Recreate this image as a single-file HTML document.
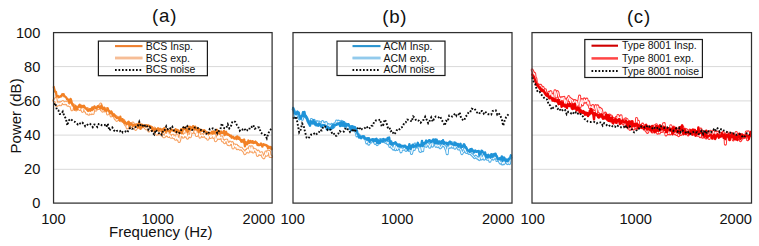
<!DOCTYPE html>
<html>
<head>
<meta charset="utf-8">
<title>Power spectra</title>
<style>
html,body{margin:0;padding:0;background:#fff;}
body{width:759px;height:246px;overflow:hidden;}
svg{display:block;}
text{font-family:"Liberation Sans",Arial,sans-serif;fill:#111;}
.tick{font-size:14.67px;}
.ttl{font-size:18.67px;letter-spacing:0.75px;}
.lg{font-size:10.5px;}
.grid{stroke:#d9d9d9;stroke-width:1;}
.frame{fill:none;stroke:#303030;stroke-width:1.25;}
.lbox{fill:none;stroke:#1a1a1a;stroke-width:1.2;}
.ln{fill:none;stroke-linejoin:round;stroke-linecap:round;}
.noise{fill:none;stroke:#0a0a0a;stroke-width:1.9;stroke-dasharray:1.7 1.8;}
</style>
</head>
<body>
<svg width="759" height="246" viewBox="0 0 759 246">
<rect x="0" y="0" width="759" height="246" fill="#fff"/>

<!-- gridlines -->
<g class="grid">
<path d="M53.5 66.6H272.1M53.5 100.9H272.1M53.5 135.1H272.1M53.5 169.3H272.1"/>
<path d="M293 66.6H512M293 100.9H512M293 135.1H512M293 169.3H512"/>
<path d="M532 66.6H751.5M532 100.9H751.5M532 135.1H751.5M532 169.3H751.5"/>
</g>

<!-- curves (a) -->
<polyline class="ln" stroke="#f7a05f" stroke-width="3.2" points="53.8,100.4 54.5,100.0 55.2,100.9 55.9,98.5 56.6,105.6 57.3,104.8 58.0,102.8 58.7,104.7 59.4,104.1 60.1,102.7 60.8,104.7 61.5,102.6 62.2,102.4 62.9,101.7 63.6,103.5 64.3,102.7 65.0,103.7 65.7,102.3 66.4,103.6 67.1,102.3 67.8,105.2 68.5,104.6 69.2,105.2 69.9,105.7 70.6,104.0 71.3,107.2 72.0,109.7 72.7,104.7 73.4,105.0 74.1,105.5 74.8,109.3 75.5,108.5 76.2,109.8 76.9,109.0 77.6,108.0 78.3,107.9 79.0,107.4 79.7,109.4 80.4,106.8 81.1,108.2 81.8,109.1 82.5,111.3 83.2,107.3 83.9,106.7 84.6,108.1 85.3,111.1 86.0,110.0 86.7,113.1 87.4,108.7 88.1,113.7 88.8,114.0 89.5,110.7 90.2,112.5 90.9,113.6 91.6,111.3 92.3,112.0 93.0,113.4 93.7,109.6 94.4,108.5 95.1,107.9 95.8,110.1 96.5,108.9 97.2,108.5 97.9,108.0 98.6,108.4 99.3,106.0 100.0,105.4 100.7,104.2 101.4,109.9 102.1,108.4 102.8,111.0 103.5,109.2 104.2,108.5 104.9,110.8 105.6,110.3 106.3,108.8 107.0,109.6 107.7,113.9 108.4,112.4 109.1,113.2 109.8,112.9 110.5,112.9 111.2,115.8 111.9,114.8 112.6,114.2 113.3,115.6 114.0,115.0 114.7,117.1 115.4,118.9 116.1,116.5 116.8,120.3 117.5,117.6 118.2,119.3 118.9,118.3 119.6,119.7 120.3,120.6 121.0,120.3 121.7,120.4 122.4,120.9 123.1,121.1 123.8,120.5 124.5,122.8 125.2,124.0 125.9,125.0 126.6,124.9 127.3,127.8 128.0,124.8 128.7,123.9 129.4,127.6 130.1,123.5 130.8,126.8 131.5,124.1 132.2,126.3 132.9,123.0 133.6,127.6 134.3,126.2 135.0,125.2 135.7,129.3 136.4,127.9 137.1,126.8 137.8,125.6 138.5,126.7 139.2,126.5 139.9,127.8 140.6,127.9 141.3,126.0 142.0,126.4 142.7,126.6 143.4,125.6 144.1,126.5 144.8,127.0 145.5,128.0 146.2,128.8 146.9,125.8 147.6,128.1 148.3,126.8 149.0,130.9 149.7,128.2 150.4,129.4 151.1,127.8 151.8,128.3 152.5,130.1 153.2,129.4 153.9,130.8 154.6,128.2 155.3,131.9 156.0,129.8 156.7,134.1 157.4,131.4 158.1,133.8 158.8,130.5 159.5,133.7 160.2,132.3 160.9,133.4 161.6,134.7 162.3,134.7 163.0,135.7 163.7,136.6 164.4,136.7 165.1,135.7 165.8,134.0 166.5,134.7 167.2,135.5 167.9,132.4 168.6,136.5 169.3,134.9 170.0,135.0 170.7,137.1 171.4,137.1 172.1,136.7 172.8,135.3 173.5,137.5 174.2,137.7 174.9,136.1 175.6,139.1 176.3,138.5 177.0,135.1 177.7,139.3 178.4,138.2 179.1,141.4 179.8,139.2 180.5,134.6 181.2,134.4 181.9,135.6 182.6,134.7 183.3,137.0 184.0,135.5 184.7,134.2 185.4,136.0 186.1,132.6 186.8,136.6 187.5,138.0 188.2,136.4 188.9,134.9 189.6,136.1 190.3,136.6 191.0,132.2 191.7,128.9 192.4,132.5 193.1,127.3 193.8,130.6 194.5,129.2 195.2,132.6 195.9,131.1 196.6,135.5 197.3,134.8 198.0,131.9 198.7,131.7 199.4,134.4 200.1,137.0 200.8,135.4 201.5,135.3 202.2,134.8 202.9,136.3 203.6,135.7 204.3,135.6 205.0,133.8 205.7,137.1 206.4,137.5 207.1,133.6 207.8,139.1 208.5,136.9 209.2,135.4 209.9,133.5 210.6,137.4 211.3,137.1 212.0,135.1 212.7,133.1 213.4,137.3 214.1,135.0 214.8,135.4 215.5,140.6 216.2,139.8 216.9,138.3 217.6,136.4 218.3,138.3 219.0,134.2 219.7,138.3 220.4,137.4 221.1,137.1 221.8,137.1 222.5,140.8 223.2,140.6 223.9,141.1 224.6,142.6 225.3,140.6 226.0,140.4 226.7,140.1 227.4,142.6 228.1,144.4 228.8,143.3 229.5,144.7 230.2,142.2 230.9,143.5 231.6,143.3 232.3,142.8 233.0,147.9 233.7,146.9 234.4,144.9 235.1,145.4 235.8,146.9 236.5,145.3 237.2,148.6 237.9,146.5 238.6,148.4 239.3,147.9 240.0,149.1 240.7,148.3 241.4,148.3 242.1,149.5 242.8,150.1 243.5,150.9 244.2,151.7 244.9,153.6 245.6,152.3 246.3,150.5 247.0,151.7 247.7,149.2 248.4,151.9 249.1,150.1 249.8,146.8 250.5,150.0 251.2,151.1 251.9,146.8 252.6,150.6 253.3,151.9 254.0,149.2 254.7,150.0 255.4,149.8 256.1,151.5 256.8,151.3 257.5,155.3 258.2,151.2 258.9,154.0 259.6,153.0 260.3,154.3 261.0,153.0 261.7,152.9 262.4,155.5 263.1,157.1 263.8,157.7 264.5,155.5 265.2,154.6 265.9,152.1 266.6,155.2 267.3,154.4 268.0,151.1 268.7,151.8 269.4,151.6 270.1,156.4 270.8,156.0 271.5,156.4"/>
<polyline class="ln" stroke="#fff" stroke-width="1.1" points="53.8,100.4 54.5,100.0 55.2,100.9 55.9,98.5 56.6,105.6 57.3,104.8 58.0,102.8 58.7,104.7 59.4,104.1 60.1,102.7 60.8,104.7 61.5,102.6 62.2,102.4 62.9,101.7 63.6,103.5 64.3,102.7 65.0,103.7 65.7,102.3 66.4,103.6 67.1,102.3 67.8,105.2 68.5,104.6 69.2,105.2 69.9,105.7 70.6,104.0 71.3,107.2 72.0,109.7 72.7,104.7 73.4,105.0 74.1,105.5 74.8,109.3 75.5,108.5 76.2,109.8 76.9,109.0 77.6,108.0 78.3,107.9 79.0,107.4 79.7,109.4 80.4,106.8 81.1,108.2 81.8,109.1 82.5,111.3 83.2,107.3 83.9,106.7 84.6,108.1 85.3,111.1 86.0,110.0 86.7,113.1 87.4,108.7 88.1,113.7 88.8,114.0 89.5,110.7 90.2,112.5 90.9,113.6 91.6,111.3 92.3,112.0 93.0,113.4 93.7,109.6 94.4,108.5 95.1,107.9 95.8,110.1 96.5,108.9 97.2,108.5 97.9,108.0 98.6,108.4 99.3,106.0 100.0,105.4 100.7,104.2 101.4,109.9 102.1,108.4 102.8,111.0 103.5,109.2 104.2,108.5 104.9,110.8 105.6,110.3 106.3,108.8 107.0,109.6 107.7,113.9 108.4,112.4 109.1,113.2 109.8,112.9 110.5,112.9 111.2,115.8 111.9,114.8 112.6,114.2 113.3,115.6 114.0,115.0 114.7,117.1 115.4,118.9 116.1,116.5 116.8,120.3 117.5,117.6 118.2,119.3 118.9,118.3 119.6,119.7 120.3,120.6 121.0,120.3 121.7,120.4 122.4,120.9 123.1,121.1 123.8,120.5 124.5,122.8 125.2,124.0 125.9,125.0 126.6,124.9 127.3,127.8 128.0,124.8 128.7,123.9 129.4,127.6 130.1,123.5 130.8,126.8 131.5,124.1 132.2,126.3 132.9,123.0 133.6,127.6 134.3,126.2 135.0,125.2 135.7,129.3 136.4,127.9 137.1,126.8 137.8,125.6 138.5,126.7 139.2,126.5 139.9,127.8 140.6,127.9 141.3,126.0 142.0,126.4 142.7,126.6 143.4,125.6 144.1,126.5 144.8,127.0 145.5,128.0 146.2,128.8 146.9,125.8 147.6,128.1 148.3,126.8 149.0,130.9 149.7,128.2 150.4,129.4 151.1,127.8 151.8,128.3 152.5,130.1 153.2,129.4 153.9,130.8 154.6,128.2 155.3,131.9 156.0,129.8 156.7,134.1 157.4,131.4 158.1,133.8 158.8,130.5 159.5,133.7 160.2,132.3 160.9,133.4 161.6,134.7 162.3,134.7 163.0,135.7 163.7,136.6 164.4,136.7 165.1,135.7 165.8,134.0 166.5,134.7 167.2,135.5 167.9,132.4 168.6,136.5 169.3,134.9 170.0,135.0 170.7,137.1 171.4,137.1 172.1,136.7 172.8,135.3 173.5,137.5 174.2,137.7 174.9,136.1 175.6,139.1 176.3,138.5 177.0,135.1 177.7,139.3 178.4,138.2 179.1,141.4 179.8,139.2 180.5,134.6 181.2,134.4 181.9,135.6 182.6,134.7 183.3,137.0 184.0,135.5 184.7,134.2 185.4,136.0 186.1,132.6 186.8,136.6 187.5,138.0 188.2,136.4 188.9,134.9 189.6,136.1 190.3,136.6 191.0,132.2 191.7,128.9 192.4,132.5 193.1,127.3 193.8,130.6 194.5,129.2 195.2,132.6 195.9,131.1 196.6,135.5 197.3,134.8 198.0,131.9 198.7,131.7 199.4,134.4 200.1,137.0 200.8,135.4 201.5,135.3 202.2,134.8 202.9,136.3 203.6,135.7 204.3,135.6 205.0,133.8 205.7,137.1 206.4,137.5 207.1,133.6 207.8,139.1 208.5,136.9 209.2,135.4 209.9,133.5 210.6,137.4 211.3,137.1 212.0,135.1 212.7,133.1 213.4,137.3 214.1,135.0 214.8,135.4 215.5,140.6 216.2,139.8 216.9,138.3 217.6,136.4 218.3,138.3 219.0,134.2 219.7,138.3 220.4,137.4 221.1,137.1 221.8,137.1 222.5,140.8 223.2,140.6 223.9,141.1 224.6,142.6 225.3,140.6 226.0,140.4 226.7,140.1 227.4,142.6 228.1,144.4 228.8,143.3 229.5,144.7 230.2,142.2 230.9,143.5 231.6,143.3 232.3,142.8 233.0,147.9 233.7,146.9 234.4,144.9 235.1,145.4 235.8,146.9 236.5,145.3 237.2,148.6 237.9,146.5 238.6,148.4 239.3,147.9 240.0,149.1 240.7,148.3 241.4,148.3 242.1,149.5 242.8,150.1 243.5,150.9 244.2,151.7 244.9,153.6 245.6,152.3 246.3,150.5 247.0,151.7 247.7,149.2 248.4,151.9 249.1,150.1 249.8,146.8 250.5,150.0 251.2,151.1 251.9,146.8 252.6,150.6 253.3,151.9 254.0,149.2 254.7,150.0 255.4,149.8 256.1,151.5 256.8,151.3 257.5,155.3 258.2,151.2 258.9,154.0 259.6,153.0 260.3,154.3 261.0,153.0 261.7,152.9 262.4,155.5 263.1,157.1 263.8,157.7 264.5,155.5 265.2,154.6 265.9,152.1 266.6,155.2 267.3,154.4 268.0,151.1 268.7,151.8 269.4,151.6 270.1,156.4 270.8,156.0 271.5,156.4"/>
<polyline class="ln" stroke="#f28125" stroke-width="2.3" points="53.8,87.0 54.5,90.2 55.2,91.9 55.9,91.8 56.6,96.2 57.3,96.4 58.0,96.0 58.7,97.3 59.4,96.9 60.1,96.6 60.8,95.9 61.5,96.2 62.2,94.3 62.9,94.7 63.6,94.1 64.3,96.3 65.0,96.4 65.7,97.0 66.4,97.8 67.1,99.1 67.8,99.8 68.5,99.7 69.2,102.0 69.9,102.4 70.6,98.8 71.3,100.7 72.0,103.8 72.7,104.6 73.4,106.1 74.1,106.6 74.8,109.3 75.5,105.9 76.2,106.7 76.9,109.3 77.6,107.2 78.3,106.9 79.0,105.6 79.7,104.6 80.4,107.2 81.1,107.5 81.8,105.8 82.5,106.4 83.2,106.9 83.9,105.8 84.6,107.3 85.3,108.1 86.0,108.7 86.7,108.6 87.4,110.2 88.1,110.8 88.8,110.3 89.5,109.2 90.2,110.7 90.9,108.9 91.6,110.1 92.3,107.4 93.0,109.4 93.7,107.9 94.4,106.4 95.1,107.6 95.8,108.2 96.5,108.6 97.2,106.8 97.9,106.1 98.6,107.1 99.3,106.5 100.0,107.6 100.7,108.3 101.4,105.4 102.1,107.7 102.8,109.2 103.5,107.9 104.2,107.7 104.9,110.1 105.6,109.7 106.3,110.7 107.0,109.5 107.7,108.3 108.4,110.6 109.1,110.9 109.8,113.1 110.5,113.1 111.2,111.4 111.9,112.4 112.6,115.3 113.3,115.5 114.0,114.4 114.7,115.7 115.4,116.7 116.1,117.2 116.8,118.1 117.5,117.8 118.2,117.9 118.9,118.2 119.6,120.2 120.3,116.7 121.0,119.7 121.7,120.4 122.4,119.1 123.1,121.7 123.8,120.9 124.5,123.1 125.2,122.2 125.9,123.4 126.6,124.3 127.3,123.5 128.0,122.2 128.7,121.7 129.4,125.8 130.1,123.8 130.8,123.4 131.5,124.6 132.2,124.4 132.9,125.9 133.6,125.2 134.3,125.4 135.0,124.7 135.7,126.2 136.4,124.4 137.1,126.4 137.8,127.5 138.5,123.8 139.2,122.7 139.9,126.4 140.6,128.7 141.3,124.7 142.0,124.6 142.7,127.0 143.4,125.6 144.1,125.7 144.8,125.7 145.5,126.5 146.2,125.2 146.9,126.2 147.6,125.9 148.3,125.4 149.0,126.3 149.7,126.0 150.4,127.6 151.1,126.7 151.8,127.1 152.5,130.4 153.2,128.9 153.9,129.1 154.6,129.9 155.3,128.9 156.0,129.2 156.7,130.0 157.4,129.9 158.1,128.2 158.8,130.7 159.5,129.2 160.2,128.8 160.9,129.2 161.6,129.9 162.3,132.5 163.0,129.2 163.7,130.8 164.4,128.0 165.1,130.6 165.8,131.7 166.5,130.2 167.2,129.5 167.9,130.4 168.6,130.8 169.3,130.6 170.0,132.1 170.7,130.2 171.4,129.4 172.1,130.1 172.8,130.4 173.5,130.8 174.2,130.8 174.9,131.2 175.6,129.2 176.3,132.3 177.0,130.8 177.7,129.9 178.4,131.9 179.1,132.5 179.8,131.4 180.5,130.8 181.2,129.2 181.9,133.4 182.6,130.6 183.3,127.9 184.0,128.0 184.7,129.1 185.4,127.5 186.1,129.9 186.8,129.5 187.5,131.9 188.2,131.5 188.9,126.6 189.6,129.4 190.3,126.9 191.0,129.6 191.7,128.0 192.4,128.2 193.1,126.1 193.8,129.3 194.5,129.6 195.2,126.6 195.9,129.0 196.6,128.4 197.3,129.7 198.0,128.4 198.7,132.3 199.4,129.1 200.1,130.1 200.8,131.2 201.5,130.0 202.2,130.7 202.9,130.5 203.6,131.2 204.3,130.1 205.0,131.2 205.7,131.8 206.4,131.9 207.1,132.7 207.8,132.5 208.5,134.0 209.2,133.0 209.9,133.4 210.6,132.9 211.3,132.9 212.0,131.7 212.7,133.7 213.4,131.4 214.1,131.7 214.8,132.8 215.5,132.6 216.2,131.5 216.9,129.8 217.6,133.0 218.3,133.0 219.0,131.2 219.7,133.8 220.4,132.0 221.1,131.5 221.8,133.0 222.5,132.6 223.2,133.1 223.9,130.9 224.6,135.2 225.3,132.5 226.0,131.6 226.7,134.4 227.4,133.6 228.1,134.9 228.8,134.6 229.5,135.4 230.2,136.2 230.9,135.5 231.6,137.7 232.3,136.8 233.0,136.6 233.7,137.9 234.4,138.6 235.1,138.0 235.8,137.3 236.5,139.1 237.2,136.3 237.9,137.1 238.6,138.8 239.3,137.6 240.0,139.7 240.7,140.1 241.4,141.7 242.1,140.0 242.8,140.8 243.5,142.4 244.2,139.5 244.9,146.4 245.6,142.1 246.3,142.3 247.0,144.4 247.7,143.1 248.4,140.5 249.1,142.9 249.8,142.7 250.5,141.0 251.2,141.4 251.9,142.6 252.6,141.1 253.3,143.0 254.0,142.9 254.7,142.1 255.4,141.5 256.1,143.1 256.8,142.6 257.5,145.0 258.2,144.2 258.9,145.2 259.6,144.6 260.3,144.8 261.0,143.5 261.7,145.3 262.4,146.6 263.1,144.3 263.8,144.2 264.5,145.0 265.2,144.8 265.9,144.8 266.6,146.0 267.3,145.7 268.0,148.1 268.7,146.6 269.4,147.2 270.1,148.2 270.8,146.9 271.5,149.2"/>
<polyline class="noise" points="53.8,104.7 55.3,103.0 56.8,109.5 58.3,110.2 59.8,114.0 61.3,113.9 62.8,111.6 64.3,116.2 65.8,118.3 67.3,125.4 68.8,120.6 70.3,118.9 71.8,120.0 73.3,121.3 74.8,121.8 76.3,123.0 77.8,124.4 79.3,122.9 80.8,123.9 82.3,122.7 83.8,123.8 85.3,126.4 86.8,125.5 88.3,123.7 89.8,123.8 91.3,124.8 92.8,127.1 94.3,124.5 95.8,124.9 97.3,127.0 98.8,123.9 100.3,124.0 101.8,125.2 103.3,125.3 104.8,124.9 106.3,127.0 107.8,123.7 109.3,130.4 110.8,128.8 112.3,127.4 113.8,130.1 115.3,131.7 116.8,130.8 118.3,130.5 119.8,131.3 121.3,130.2 122.8,132.6 124.3,132.1 125.8,131.4 127.3,132.4 128.8,129.6 130.3,127.6 131.8,128.7 133.3,128.6 134.8,128.0 136.3,126.2 137.8,126.0 139.3,121.8 140.8,125.8 142.3,126.5 143.8,124.2 145.3,126.0 146.8,125.3 148.3,129.6 149.8,127.2 151.3,129.7 152.8,132.9 154.3,134.5 155.8,129.8 157.3,131.8 158.8,133.2 160.3,132.5 161.8,134.6 163.3,129.8 164.8,129.9 166.3,126.3 167.8,129.1 169.3,127.5 170.8,128.6 172.3,126.8 173.8,130.4 175.3,130.4 176.8,132.4 178.3,133.5 179.8,132.7 181.3,129.9 182.8,128.1 184.3,126.1 185.8,128.5 187.3,126.2 188.8,128.6 190.3,129.9 191.8,130.1 193.3,129.6 194.8,127.6 196.3,127.1 197.8,128.0 199.3,129.0 200.8,129.9 202.3,130.7 203.8,131.5 205.3,133.5 206.8,133.7 208.3,134.3 209.8,128.9 211.3,129.1 212.8,128.3 214.3,129.7 215.8,129.8 217.3,133.4 218.8,131.1 220.3,129.6 221.8,123.3 223.3,127.5 224.8,128.3 226.3,128.1 227.8,124.3 229.3,128.4 230.8,126.7 232.3,122.0 233.8,121.0 235.3,122.0 236.8,124.9 238.3,127.3 239.8,130.7 241.3,128.9 242.8,129.7 244.3,128.5 245.8,131.1 247.3,130.2 248.8,130.5 250.3,126.7 251.8,126.9 253.3,125.1 254.8,128.7 256.3,128.1 257.8,127.3 259.3,127.6 260.8,132.5 262.3,133.7 263.8,134.7 265.3,135.1 266.8,138.3 268.3,133.4 269.8,130.4 271.3,128.8"/>
<!-- curves (b) -->
<polyline class="ln" stroke="#55b0e6" stroke-width="3" points="293.2,109.4 293.9,110.3 294.6,113.4 295.3,116.0 296.0,117.5 296.7,115.8 297.4,114.6 298.1,114.1 298.8,116.8 299.5,119.0 300.2,118.0 300.9,116.8 301.6,116.7 302.3,119.4 303.0,116.5 303.7,112.8 304.4,115.8 305.1,115.2 305.8,116.9 306.5,118.0 307.2,118.6 307.9,121.3 308.6,121.4 309.3,121.6 310.0,122.8 310.7,123.1 311.4,119.4 312.1,121.2 312.8,120.4 313.5,121.8 314.2,120.4 314.9,122.5 315.6,122.6 316.3,122.5 317.0,121.7 317.7,122.8 318.4,122.1 319.1,122.0 319.8,124.4 320.5,122.7 321.2,125.9 321.9,125.3 322.6,121.5 323.3,124.7 324.0,123.0 324.7,124.9 325.4,125.1 326.1,122.5 326.8,125.2 327.5,125.4 328.2,127.3 328.9,124.6 329.6,127.7 330.3,125.4 331.0,125.8 331.7,124.4 332.4,126.9 333.1,125.0 333.8,126.9 334.5,123.7 335.2,123.5 335.9,123.3 336.6,121.0 337.3,121.5 338.0,123.5 338.7,121.1 339.4,122.1 340.1,121.9 340.8,122.8 341.5,121.4 342.2,121.7 342.9,122.5 343.6,123.2 344.3,122.8 345.0,126.2 345.7,123.9 346.4,124.5 347.1,124.9 347.8,128.5 348.5,127.0 349.2,126.4 349.9,126.4 350.6,128.8 351.3,127.0 352.0,126.9 352.7,129.8 353.4,127.5 354.1,129.3 354.8,130.7 355.5,131.0 356.2,132.5 356.9,135.9 357.6,135.0 358.3,135.7 359.0,134.9 359.7,137.2 360.4,137.0 361.1,137.8 361.8,136.8 362.5,136.8 363.2,136.5 363.9,136.9 364.6,138.5 365.3,138.5 366.0,139.8 366.7,143.0 367.4,141.5 368.1,139.1 368.8,144.2 369.5,142.4 370.2,140.1 370.9,142.2 371.6,140.5 372.3,139.6 373.0,140.0 373.7,140.0 374.4,141.9 375.1,143.5 375.8,141.6 376.5,142.6 377.2,144.7 377.9,140.2 378.6,142.0 379.3,141.0 380.0,139.7 380.7,139.5 381.4,140.7 382.1,141.1 382.8,139.5 383.5,140.5 384.2,141.6 384.9,141.3 385.6,142.3 386.3,141.8 387.0,141.8 387.7,143.7 388.4,142.0 389.1,143.4 389.8,146.4 390.5,144.9 391.2,145.9 391.9,147.8 392.6,147.8 393.3,149.1 394.0,147.0 394.7,144.9 395.4,149.7 396.1,148.7 396.8,145.9 397.5,149.5 398.2,147.9 398.9,145.8 399.6,148.2 400.3,148.5 401.0,151.9 401.7,148.6 402.4,149.3 403.1,149.3 403.8,149.1 404.5,148.1 405.2,149.5 405.9,150.5 406.6,149.7 407.3,148.0 408.0,148.2 408.7,150.4 409.4,149.7 410.1,150.2 410.8,149.0 411.5,153.6 412.2,151.2 412.9,147.7 413.6,149.4 414.3,149.5 415.0,143.9 415.7,146.1 416.4,146.0 417.1,147.1 417.8,146.2 418.5,146.8 419.2,147.7 419.9,151.1 420.6,151.5 421.3,147.3 422.0,146.2 422.7,150.8 423.4,145.2 424.1,145.3 424.8,145.7 425.5,145.9 426.2,146.4 426.9,145.2 427.6,143.2 428.3,144.9 429.0,144.7 429.7,147.3 430.4,144.8 431.1,143.2 431.8,143.2 432.5,146.2 433.2,143.0 433.9,140.3 434.6,142.9 435.3,144.2 436.0,146.4 436.7,143.7 437.4,146.3 438.1,146.7 438.8,144.9 439.5,145.7 440.2,147.9 440.9,147.4 441.6,145.7 442.3,144.5 443.0,145.7 443.7,145.1 444.4,146.3 445.1,146.4 445.8,148.9 446.5,150.1 447.2,153.8 447.9,146.7 448.6,147.3 449.3,147.4 450.0,145.3 450.7,147.2 451.4,142.6 452.1,146.0 452.8,147.3 453.5,143.0 454.2,145.0 454.9,148.3 455.6,146.7 456.3,145.8 457.0,147.0 457.7,147.0 458.4,149.0 459.1,148.9 459.8,148.7 460.5,149.1 461.2,150.9 461.9,153.7 462.6,152.0 463.3,151.9 464.0,150.4 464.7,148.3 465.4,149.8 466.1,152.4 466.8,152.4 467.5,151.6 468.2,150.8 468.9,153.5 469.6,153.1 470.3,153.3 471.0,153.6 471.7,154.7 472.4,154.9 473.1,156.2 473.8,156.6 474.5,157.6 475.2,157.3 475.9,156.2 476.6,157.1 477.3,158.3 478.0,157.6 478.7,159.0 479.4,159.6 480.1,156.6 480.8,155.1 481.5,159.1 482.2,157.4 482.9,158.4 483.6,155.6 484.3,159.2 485.0,156.7 485.7,156.6 486.4,157.5 487.1,159.3 487.8,159.2 488.5,159.3 489.2,158.3 489.9,161.3 490.6,159.0 491.3,158.7 492.0,158.6 492.7,155.2 493.4,159.2 494.1,157.8 494.8,157.7 495.5,157.9 496.2,157.1 496.9,160.6 497.6,159.4 498.3,159.7 499.0,160.2 499.7,162.1 500.4,163.2 501.1,161.6 501.8,160.6 502.5,164.1 503.2,160.9 503.9,163.8 504.6,162.0 505.3,161.1 506.0,161.2 506.7,162.8 507.4,163.6 508.1,162.4 508.8,163.4 509.5,163.6 510.2,159.4 510.9,157.7"/>
<polyline class="ln" stroke="#fff" stroke-width="1" points="293.2,109.4 293.9,110.3 294.6,113.4 295.3,116.0 296.0,117.5 296.7,115.8 297.4,114.6 298.1,114.1 298.8,116.8 299.5,119.0 300.2,118.0 300.9,116.8 301.6,116.7 302.3,119.4 303.0,116.5 303.7,112.8 304.4,115.8 305.1,115.2 305.8,116.9 306.5,118.0 307.2,118.6 307.9,121.3 308.6,121.4 309.3,121.6 310.0,122.8 310.7,123.1 311.4,119.4 312.1,121.2 312.8,120.4 313.5,121.8 314.2,120.4 314.9,122.5 315.6,122.6 316.3,122.5 317.0,121.7 317.7,122.8 318.4,122.1 319.1,122.0 319.8,124.4 320.5,122.7 321.2,125.9 321.9,125.3 322.6,121.5 323.3,124.7 324.0,123.0 324.7,124.9 325.4,125.1 326.1,122.5 326.8,125.2 327.5,125.4 328.2,127.3 328.9,124.6 329.6,127.7 330.3,125.4 331.0,125.8 331.7,124.4 332.4,126.9 333.1,125.0 333.8,126.9 334.5,123.7 335.2,123.5 335.9,123.3 336.6,121.0 337.3,121.5 338.0,123.5 338.7,121.1 339.4,122.1 340.1,121.9 340.8,122.8 341.5,121.4 342.2,121.7 342.9,122.5 343.6,123.2 344.3,122.8 345.0,126.2 345.7,123.9 346.4,124.5 347.1,124.9 347.8,128.5 348.5,127.0 349.2,126.4 349.9,126.4 350.6,128.8 351.3,127.0 352.0,126.9 352.7,129.8 353.4,127.5 354.1,129.3 354.8,130.7 355.5,131.0 356.2,132.5 356.9,135.9 357.6,135.0 358.3,135.7 359.0,134.9 359.7,137.2 360.4,137.0 361.1,137.8 361.8,136.8 362.5,136.8 363.2,136.5 363.9,136.9 364.6,138.5 365.3,138.5 366.0,139.8 366.7,143.0 367.4,141.5 368.1,139.1 368.8,144.2 369.5,142.4 370.2,140.1 370.9,142.2 371.6,140.5 372.3,139.6 373.0,140.0 373.7,140.0 374.4,141.9 375.1,143.5 375.8,141.6 376.5,142.6 377.2,144.7 377.9,140.2 378.6,142.0 379.3,141.0 380.0,139.7 380.7,139.5 381.4,140.7 382.1,141.1 382.8,139.5 383.5,140.5 384.2,141.6 384.9,141.3 385.6,142.3 386.3,141.8 387.0,141.8 387.7,143.7 388.4,142.0 389.1,143.4 389.8,146.4 390.5,144.9 391.2,145.9 391.9,147.8 392.6,147.8 393.3,149.1 394.0,147.0 394.7,144.9 395.4,149.7 396.1,148.7 396.8,145.9 397.5,149.5 398.2,147.9 398.9,145.8 399.6,148.2 400.3,148.5 401.0,151.9 401.7,148.6 402.4,149.3 403.1,149.3 403.8,149.1 404.5,148.1 405.2,149.5 405.9,150.5 406.6,149.7 407.3,148.0 408.0,148.2 408.7,150.4 409.4,149.7 410.1,150.2 410.8,149.0 411.5,153.6 412.2,151.2 412.9,147.7 413.6,149.4 414.3,149.5 415.0,143.9 415.7,146.1 416.4,146.0 417.1,147.1 417.8,146.2 418.5,146.8 419.2,147.7 419.9,151.1 420.6,151.5 421.3,147.3 422.0,146.2 422.7,150.8 423.4,145.2 424.1,145.3 424.8,145.7 425.5,145.9 426.2,146.4 426.9,145.2 427.6,143.2 428.3,144.9 429.0,144.7 429.7,147.3 430.4,144.8 431.1,143.2 431.8,143.2 432.5,146.2 433.2,143.0 433.9,140.3 434.6,142.9 435.3,144.2 436.0,146.4 436.7,143.7 437.4,146.3 438.1,146.7 438.8,144.9 439.5,145.7 440.2,147.9 440.9,147.4 441.6,145.7 442.3,144.5 443.0,145.7 443.7,145.1 444.4,146.3 445.1,146.4 445.8,148.9 446.5,150.1 447.2,153.8 447.9,146.7 448.6,147.3 449.3,147.4 450.0,145.3 450.7,147.2 451.4,142.6 452.1,146.0 452.8,147.3 453.5,143.0 454.2,145.0 454.9,148.3 455.6,146.7 456.3,145.8 457.0,147.0 457.7,147.0 458.4,149.0 459.1,148.9 459.8,148.7 460.5,149.1 461.2,150.9 461.9,153.7 462.6,152.0 463.3,151.9 464.0,150.4 464.7,148.3 465.4,149.8 466.1,152.4 466.8,152.4 467.5,151.6 468.2,150.8 468.9,153.5 469.6,153.1 470.3,153.3 471.0,153.6 471.7,154.7 472.4,154.9 473.1,156.2 473.8,156.6 474.5,157.6 475.2,157.3 475.9,156.2 476.6,157.1 477.3,158.3 478.0,157.6 478.7,159.0 479.4,159.6 480.1,156.6 480.8,155.1 481.5,159.1 482.2,157.4 482.9,158.4 483.6,155.6 484.3,159.2 485.0,156.7 485.7,156.6 486.4,157.5 487.1,159.3 487.8,159.2 488.5,159.3 489.2,158.3 489.9,161.3 490.6,159.0 491.3,158.7 492.0,158.6 492.7,155.2 493.4,159.2 494.1,157.8 494.8,157.7 495.5,157.9 496.2,157.1 496.9,160.6 497.6,159.4 498.3,159.7 499.0,160.2 499.7,162.1 500.4,163.2 501.1,161.6 501.8,160.6 502.5,164.1 503.2,160.9 503.9,163.8 504.6,162.0 505.3,161.1 506.0,161.2 506.7,162.8 507.4,163.6 508.1,162.4 508.8,163.4 509.5,163.6 510.2,159.4 510.9,157.7"/>
<polyline class="ln" stroke="#1f93d8" stroke-width="2.4" points="293.2,107.9 293.9,109.8 294.6,113.3 295.3,113.8 296.0,112.8 296.7,113.9 297.4,111.6 298.1,113.5 298.8,112.6 299.5,116.5 300.2,118.1 300.9,118.6 301.6,116.1 302.3,115.4 303.0,112.3 303.7,116.1 304.4,111.9 305.1,116.5 305.8,116.0 306.5,117.1 307.2,119.2 307.9,120.7 308.6,123.3 309.3,124.1 310.0,125.7 310.7,121.3 311.4,123.2 312.1,121.8 312.8,123.4 313.5,120.4 314.2,123.3 314.9,124.5 315.6,122.5 316.3,125.4 317.0,124.5 317.7,125.5 318.4,125.7 319.1,123.6 319.8,124.1 320.5,125.0 321.2,126.4 321.9,126.7 322.6,125.1 323.3,125.3 324.0,125.1 324.7,125.4 325.4,125.8 326.1,126.2 326.8,129.3 327.5,126.6 328.2,127.4 328.9,128.9 329.6,127.9 330.3,129.3 331.0,128.7 331.7,128.6 332.4,125.2 333.1,127.7 333.8,124.9 334.5,124.8 335.2,125.2 335.9,124.7 336.6,124.9 337.3,123.7 338.0,123.5 338.7,124.3 339.4,123.1 340.1,126.1 340.8,123.2 341.5,122.2 342.2,125.7 342.9,122.8 343.6,122.0 344.3,126.1 345.0,124.0 345.7,126.1 346.4,124.3 347.1,125.5 347.8,124.2 348.5,124.3 349.2,125.7 349.9,127.0 350.6,128.3 351.3,130.3 352.0,126.2 352.7,128.6 353.4,126.7 354.1,127.7 354.8,127.1 355.5,128.0 356.2,129.8 356.9,130.7 357.6,133.9 358.3,134.8 359.0,137.4 359.7,136.3 360.4,136.6 361.1,137.9 361.8,137.2 362.5,136.5 363.2,136.5 363.9,136.5 364.6,138.4 365.3,138.5 366.0,138.5 366.7,139.5 367.4,138.3 368.1,140.1 368.8,138.2 369.5,141.8 370.2,140.0 370.9,139.9 371.6,140.2 372.3,139.4 373.0,139.3 373.7,141.3 374.4,140.2 375.1,139.2 375.8,141.1 376.5,138.8 377.2,143.0 377.9,140.8 378.6,140.8 379.3,143.2 380.0,142.9 380.7,140.2 381.4,140.6 382.1,140.9 382.8,141.4 383.5,139.1 384.2,139.5 384.9,140.8 385.6,139.6 386.3,140.2 387.0,140.0 387.7,137.9 388.4,138.3 389.1,137.4 389.8,141.6 390.5,144.1 391.2,141.4 391.9,144.5 392.6,144.4 393.3,143.2 394.0,143.3 394.7,143.4 395.4,142.2 396.1,143.3 396.8,144.1 397.5,145.4 398.2,146.0 398.9,144.4 399.6,146.6 400.3,144.9 401.0,145.8 401.7,146.5 402.4,146.0 403.1,145.9 403.8,146.4 404.5,145.6 405.2,145.7 405.9,146.5 406.6,148.1 407.3,147.1 408.0,149.7 408.7,147.9 409.4,144.2 410.1,146.7 410.8,148.8 411.5,146.3 412.2,145.4 412.9,144.7 413.6,147.1 414.3,146.4 415.0,145.8 415.7,145.3 416.4,146.3 417.1,145.3 417.8,142.8 418.5,145.5 419.2,145.0 419.9,144.9 420.6,145.9 421.3,144.8 422.0,141.0 422.7,146.1 423.4,145.1 424.1,143.3 424.8,142.5 425.5,142.7 426.2,140.6 426.9,142.3 427.6,141.4 428.3,141.1 429.0,140.1 429.7,140.2 430.4,142.1 431.1,142.2 431.8,141.1 432.5,140.5 433.2,139.5 433.9,141.4 434.6,143.0 435.3,139.5 436.0,143.4 436.7,139.8 437.4,142.2 438.1,143.3 438.8,141.5 439.5,141.4 440.2,142.9 440.9,143.3 441.6,141.2 442.3,142.9 443.0,140.2 443.7,143.7 444.4,142.2 445.1,142.8 445.8,143.4 446.5,142.8 447.2,144.4 447.9,144.6 448.6,142.8 449.3,142.4 450.0,141.6 450.7,142.6 451.4,143.9 452.1,144.0 452.8,144.3 453.5,144.6 454.2,145.1 454.9,142.6 455.6,142.8 456.3,145.1 457.0,145.1 457.7,143.9 458.4,146.6 459.1,144.7 459.8,145.4 460.5,143.8 461.2,147.2 461.9,146.4 462.6,146.8 463.3,145.3 464.0,144.2 464.7,145.3 465.4,147.6 466.1,147.3 466.8,148.7 467.5,150.2 468.2,150.8 468.9,150.7 469.6,151.7 470.3,149.2 471.0,151.0 471.7,149.0 472.4,150.7 473.1,150.4 473.8,152.5 474.5,151.4 475.2,150.4 475.9,151.8 476.6,151.8 477.3,151.2 478.0,151.5 478.7,150.9 479.4,155.3 480.1,152.2 480.8,153.2 481.5,150.7 482.2,151.0 482.9,152.4 483.6,152.6 484.3,154.1 485.0,152.4 485.7,155.1 486.4,157.3 487.1,155.3 487.8,157.3 488.5,154.8 489.2,156.1 489.9,155.9 490.6,157.4 491.3,154.2 492.0,155.4 492.7,156.7 493.4,154.3 494.1,155.3 494.8,153.8 495.5,153.6 496.2,155.6 496.9,156.4 497.6,159.3 498.3,158.6 499.0,159.2 499.7,158.1 500.4,158.3 501.1,159.1 501.8,156.4 502.5,161.1 503.2,158.1 503.9,157.4 504.6,158.3 505.3,160.3 506.0,161.2 506.7,159.6 507.4,160.8 508.1,160.5 508.8,158.8 509.5,158.8 510.2,157.7 510.9,155.3"/>
<polyline class="noise" points="293.2,117.3 294.7,119.4 296.2,116.2 297.7,124.3 299.2,132.3 300.7,129.6 302.2,123.5 303.7,125.9 305.2,132.5 306.7,137.8 308.2,138.4 309.7,136.8 311.2,134.6 312.7,134.8 314.2,133.6 315.7,135.0 317.2,133.5 318.7,133.0 320.2,129.7 321.7,130.5 323.2,126.7 324.7,126.3 326.2,127.7 327.7,130.0 329.2,129.1 330.7,130.0 332.2,133.6 333.7,133.0 335.2,136.2 336.7,135.7 338.2,133.7 339.7,131.1 341.2,132.1 342.7,131.8 344.2,131.4 345.7,127.8 347.2,129.2 348.7,129.6 350.2,132.2 351.7,131.3 353.2,128.7 354.7,132.1 356.2,129.6 357.7,128.4 359.2,127.0 360.7,130.2 362.2,128.9 363.7,129.0 365.2,127.7 366.7,126.3 368.2,128.8 369.7,128.1 371.2,125.9 372.7,125.6 374.2,121.8 375.7,120.5 377.2,120.5 378.7,120.1 380.2,119.5 381.7,126.4 383.2,125.2 384.7,119.5 386.2,121.8 387.7,127.4 389.2,126.7 390.7,131.3 392.2,130.6 393.7,134.4 395.2,133.2 396.7,130.3 398.2,128.5 399.7,129.3 401.2,127.6 402.7,126.7 404.2,123.0 405.7,122.5 407.2,119.5 408.7,119.9 410.2,120.3 411.7,121.6 413.2,116.4 414.7,117.8 416.2,120.6 417.7,120.3 419.2,120.8 420.7,122.7 422.2,120.4 423.7,119.8 425.2,116.7 426.7,119.7 428.2,123.3 429.7,120.9 431.2,117.5 432.7,121.7 434.2,118.2 435.7,116.4 437.2,116.6 438.7,117.4 440.2,116.4 441.7,120.4 443.2,122.1 444.7,125.6 446.2,120.8 447.7,121.5 449.2,115.5 450.7,115.6 452.2,116.6 453.7,115.2 455.2,113.4 456.7,116.1 458.2,115.2 459.7,112.3 461.2,118.5 462.7,119.8 464.2,120.5 465.7,116.5 467.2,115.0 468.7,112.0 470.2,112.1 471.7,108.7 473.2,109.1 474.7,108.7 476.2,111.9 477.7,113.0 479.2,114.0 480.7,110.9 482.2,111.2 483.7,113.6 485.2,111.5 486.7,113.7 488.2,114.2 489.7,114.3 491.2,114.7 492.7,111.0 494.2,110.3 495.7,110.2 497.2,114.5 498.7,113.1 500.2,115.5 501.7,118.8 503.2,125.7 504.7,120.4 506.2,117.0 507.7,115.2 509.2,113.1"/>
<!-- curves (c) -->
<polyline class="ln" stroke="#ff3636" stroke-width="3" points="532.2,70.0 532.8,71.5 533.4,72.3 534.0,74.7 534.6,73.3 535.2,78.0 535.8,78.3 536.4,82.3 537.0,83.6 537.6,85.5 538.2,85.5 538.8,85.1 539.4,87.4 540.0,88.5 540.6,85.3 541.2,87.2 541.8,86.9 542.4,90.0 543.0,87.5 543.6,89.2 544.2,91.1 544.8,91.9 545.4,89.7 546.0,93.5 546.6,93.4 547.2,93.9 547.8,94.5 548.4,95.4 549.0,92.3 549.6,98.0 550.2,94.0 550.8,91.6 551.4,95.3 552.0,98.0 552.6,94.5 553.2,98.2 553.8,98.3 554.4,93.8 555.0,90.7 555.6,92.8 556.2,97.2 556.8,93.1 557.4,91.6 558.0,92.7 558.6,96.3 559.2,97.1 559.8,99.8 560.4,101.0 561.0,97.9 561.6,99.7 562.2,97.6 562.8,100.1 563.4,97.5 564.0,97.3 564.6,104.4 565.2,99.6 565.8,100.8 566.4,104.9 567.0,100.7 567.6,98.5 568.2,98.7 568.8,96.6 569.4,100.9 570.0,98.1 570.6,103.7 571.2,99.2 571.8,99.8 572.4,100.0 573.0,102.7 573.6,101.9 574.2,104.9 574.8,100.5 575.4,102.5 576.0,106.5 576.6,101.2 577.2,103.1 577.8,105.5 578.4,102.7 579.0,99.6 579.6,95.9 580.2,106.6 580.8,101.8 581.4,103.7 582.0,99.5 582.6,104.9 583.2,101.9 583.8,101.0 584.4,98.9 585.0,102.2 585.6,100.4 586.2,101.6 586.8,98.9 587.4,102.2 588.0,104.3 588.6,101.7 589.2,105.7 589.8,107.9 590.4,106.3 591.0,106.4 591.6,106.8 592.2,110.9 592.8,105.4 593.4,108.7 594.0,108.5 594.6,109.4 595.2,108.5 595.8,105.6 596.4,112.8 597.0,108.8 597.6,105.8 598.2,107.5 598.8,110.4 599.4,112.3 600.0,108.2 600.6,113.7 601.2,109.3 601.8,111.3 602.4,115.7 603.0,118.1 603.6,114.2 604.2,114.1 604.8,118.3 605.4,113.1 606.0,116.7 606.6,117.0 607.2,119.3 607.8,117.8 608.4,116.7 609.0,119.0 609.6,115.0 610.2,119.9 610.8,116.5 611.4,116.1 612.0,117.6 612.6,118.8 613.2,120.6 613.8,118.6 614.4,121.1 615.0,121.9 615.6,119.5 616.2,117.6 616.8,122.3 617.4,121.0 618.0,115.4 618.6,118.2 619.2,120.7 619.8,116.9 620.4,118.3 621.0,115.7 621.6,120.9 622.2,120.7 622.8,120.7 623.4,124.0 624.0,119.9 624.6,120.4 625.2,126.4 625.8,118.8 626.4,124.1 627.0,119.4 627.6,123.4 628.2,128.1 628.8,123.9 629.4,121.6 630.0,129.4 630.6,122.6 631.2,123.7 631.8,125.1 632.4,121.4 633.0,127.6 633.6,129.1 634.2,127.2 634.8,126.5 635.4,125.6 636.0,128.1 636.6,118.4 637.2,125.7 637.8,126.7 638.4,121.3 639.0,127.1 639.6,125.8 640.2,126.0 640.8,126.4 641.4,127.7 642.0,127.5 642.6,124.1 643.2,126.5 643.8,126.6 644.4,127.3 645.0,125.9 645.6,129.9 646.2,130.8 646.8,131.5 647.4,132.4 648.0,131.4 648.6,126.8 649.2,126.4 649.8,126.9 650.4,129.3 651.0,127.6 651.6,130.3 652.2,132.0 652.8,127.2 653.4,130.8 654.0,127.6 654.6,125.7 655.2,125.9 655.8,128.4 656.4,124.7 657.0,130.7 657.6,133.2 658.2,126.7 658.8,128.6 659.4,133.1 660.0,130.1 660.6,129.7 661.2,128.5 661.8,131.5 662.4,129.7 663.0,126.4 663.6,123.7 664.2,123.6 664.8,132.2 665.4,130.5 666.0,135.1 666.6,133.4 667.2,128.7 667.8,132.1 668.4,133.8 669.0,128.4 669.6,129.0 670.2,134.0 670.8,125.7 671.4,127.5 672.0,132.7 672.6,130.8 673.2,127.8 673.8,127.1 674.4,131.9 675.0,133.8 675.6,133.0 676.2,132.0 676.8,134.6 677.4,131.7 678.0,128.9 678.6,135.7 679.2,127.8 679.8,130.4 680.4,130.7 681.0,134.4 681.6,129.2 682.2,130.4 682.8,126.9 683.4,132.1 684.0,132.4 684.6,133.0 685.2,129.3 685.8,132.2 686.4,129.6 687.0,130.6 687.6,131.7 688.2,135.0 688.8,131.0 689.4,132.5 690.0,130.1 690.6,130.8 691.2,130.5 691.8,131.9 692.4,134.1 693.0,129.7 693.6,134.1 694.2,130.2 694.8,133.3 695.4,131.2 696.0,131.9 696.6,131.7 697.2,135.3 697.8,133.3 698.4,135.3 699.0,131.9 699.6,132.2 700.2,136.7 700.8,128.9 701.4,130.7 702.0,132.4 702.6,137.2 703.2,131.4 703.8,134.8 704.4,137.0 705.0,132.9 705.6,133.3 706.2,138.1 706.8,133.0 707.4,132.1 708.0,136.9 708.6,133.9 709.2,138.6 709.8,136.8 710.4,131.3 711.0,136.2 711.6,135.6 712.2,133.9 712.8,138.2 713.4,131.3 714.0,132.6 714.6,134.4 715.2,137.5 715.8,131.9 716.4,134.1 717.0,134.0 717.6,132.1 718.2,134.8 718.8,133.0 719.4,134.8 720.0,136.6 720.6,133.7 721.2,133.9 721.8,133.7 722.4,134.0 723.0,132.4 723.6,133.3 724.2,136.5 724.8,134.2 725.4,144.2 726.0,134.4 726.6,137.4 727.2,132.7 727.8,135.6 728.4,134.9 729.0,136.0 729.6,139.4 730.2,135.8 730.8,133.2 731.4,136.4 732.0,133.8 732.6,135.8 733.2,139.9 733.8,138.4 734.4,138.7 735.0,137.3 735.6,136.0 736.2,132.4 736.8,135.0 737.4,134.9 738.0,137.8 738.6,138.6 739.2,137.4 739.8,134.4 740.4,140.7 741.0,139.7 741.6,135.8 742.2,136.8 742.8,137.9 743.4,136.7 744.0,136.2 744.6,137.5 745.2,136.2 745.8,136.5 746.4,132.0 747.0,131.9 747.6,139.8 748.2,131.8 748.8,136.5 749.4,135.9 750.0,135.6 750.6,133.2"/>
<polyline class="ln" stroke="#fff" stroke-width="1" points="532.2,70.0 532.8,71.5 533.4,72.3 534.0,74.7 534.6,73.3 535.2,78.0 535.8,78.3 536.4,82.3 537.0,83.6 537.6,85.5 538.2,85.5 538.8,85.1 539.4,87.4 540.0,88.5 540.6,85.3 541.2,87.2 541.8,86.9 542.4,90.0 543.0,87.5 543.6,89.2 544.2,91.1 544.8,91.9 545.4,89.7 546.0,93.5 546.6,93.4 547.2,93.9 547.8,94.5 548.4,95.4 549.0,92.3 549.6,98.0 550.2,94.0 550.8,91.6 551.4,95.3 552.0,98.0 552.6,94.5 553.2,98.2 553.8,98.3 554.4,93.8 555.0,90.7 555.6,92.8 556.2,97.2 556.8,93.1 557.4,91.6 558.0,92.7 558.6,96.3 559.2,97.1 559.8,99.8 560.4,101.0 561.0,97.9 561.6,99.7 562.2,97.6 562.8,100.1 563.4,97.5 564.0,97.3 564.6,104.4 565.2,99.6 565.8,100.8 566.4,104.9 567.0,100.7 567.6,98.5 568.2,98.7 568.8,96.6 569.4,100.9 570.0,98.1 570.6,103.7 571.2,99.2 571.8,99.8 572.4,100.0 573.0,102.7 573.6,101.9 574.2,104.9 574.8,100.5 575.4,102.5 576.0,106.5 576.6,101.2 577.2,103.1 577.8,105.5 578.4,102.7 579.0,99.6 579.6,95.9 580.2,106.6 580.8,101.8 581.4,103.7 582.0,99.5 582.6,104.9 583.2,101.9 583.8,101.0 584.4,98.9 585.0,102.2 585.6,100.4 586.2,101.6 586.8,98.9 587.4,102.2 588.0,104.3 588.6,101.7 589.2,105.7 589.8,107.9 590.4,106.3 591.0,106.4 591.6,106.8 592.2,110.9 592.8,105.4 593.4,108.7 594.0,108.5 594.6,109.4 595.2,108.5 595.8,105.6 596.4,112.8 597.0,108.8 597.6,105.8 598.2,107.5 598.8,110.4 599.4,112.3 600.0,108.2 600.6,113.7 601.2,109.3 601.8,111.3 602.4,115.7 603.0,118.1 603.6,114.2 604.2,114.1 604.8,118.3 605.4,113.1 606.0,116.7 606.6,117.0 607.2,119.3 607.8,117.8 608.4,116.7 609.0,119.0 609.6,115.0 610.2,119.9 610.8,116.5 611.4,116.1 612.0,117.6 612.6,118.8 613.2,120.6 613.8,118.6 614.4,121.1 615.0,121.9 615.6,119.5 616.2,117.6 616.8,122.3 617.4,121.0 618.0,115.4 618.6,118.2 619.2,120.7 619.8,116.9 620.4,118.3 621.0,115.7 621.6,120.9 622.2,120.7 622.8,120.7 623.4,124.0 624.0,119.9 624.6,120.4 625.2,126.4 625.8,118.8 626.4,124.1 627.0,119.4 627.6,123.4 628.2,128.1 628.8,123.9 629.4,121.6 630.0,129.4 630.6,122.6 631.2,123.7 631.8,125.1 632.4,121.4 633.0,127.6 633.6,129.1 634.2,127.2 634.8,126.5 635.4,125.6 636.0,128.1 636.6,118.4 637.2,125.7 637.8,126.7 638.4,121.3 639.0,127.1 639.6,125.8 640.2,126.0 640.8,126.4 641.4,127.7 642.0,127.5 642.6,124.1 643.2,126.5 643.8,126.6 644.4,127.3 645.0,125.9 645.6,129.9 646.2,130.8 646.8,131.5 647.4,132.4 648.0,131.4 648.6,126.8 649.2,126.4 649.8,126.9 650.4,129.3 651.0,127.6 651.6,130.3 652.2,132.0 652.8,127.2 653.4,130.8 654.0,127.6 654.6,125.7 655.2,125.9 655.8,128.4 656.4,124.7 657.0,130.7 657.6,133.2 658.2,126.7 658.8,128.6 659.4,133.1 660.0,130.1 660.6,129.7 661.2,128.5 661.8,131.5 662.4,129.7 663.0,126.4 663.6,123.7 664.2,123.6 664.8,132.2 665.4,130.5 666.0,135.1 666.6,133.4 667.2,128.7 667.8,132.1 668.4,133.8 669.0,128.4 669.6,129.0 670.2,134.0 670.8,125.7 671.4,127.5 672.0,132.7 672.6,130.8 673.2,127.8 673.8,127.1 674.4,131.9 675.0,133.8 675.6,133.0 676.2,132.0 676.8,134.6 677.4,131.7 678.0,128.9 678.6,135.7 679.2,127.8 679.8,130.4 680.4,130.7 681.0,134.4 681.6,129.2 682.2,130.4 682.8,126.9 683.4,132.1 684.0,132.4 684.6,133.0 685.2,129.3 685.8,132.2 686.4,129.6 687.0,130.6 687.6,131.7 688.2,135.0 688.8,131.0 689.4,132.5 690.0,130.1 690.6,130.8 691.2,130.5 691.8,131.9 692.4,134.1 693.0,129.7 693.6,134.1 694.2,130.2 694.8,133.3 695.4,131.2 696.0,131.9 696.6,131.7 697.2,135.3 697.8,133.3 698.4,135.3 699.0,131.9 699.6,132.2 700.2,136.7 700.8,128.9 701.4,130.7 702.0,132.4 702.6,137.2 703.2,131.4 703.8,134.8 704.4,137.0 705.0,132.9 705.6,133.3 706.2,138.1 706.8,133.0 707.4,132.1 708.0,136.9 708.6,133.9 709.2,138.6 709.8,136.8 710.4,131.3 711.0,136.2 711.6,135.6 712.2,133.9 712.8,138.2 713.4,131.3 714.0,132.6 714.6,134.4 715.2,137.5 715.8,131.9 716.4,134.1 717.0,134.0 717.6,132.1 718.2,134.8 718.8,133.0 719.4,134.8 720.0,136.6 720.6,133.7 721.2,133.9 721.8,133.7 722.4,134.0 723.0,132.4 723.6,133.3 724.2,136.5 724.8,134.2 725.4,144.2 726.0,134.4 726.6,137.4 727.2,132.7 727.8,135.6 728.4,134.9 729.0,136.0 729.6,139.4 730.2,135.8 730.8,133.2 731.4,136.4 732.0,133.8 732.6,135.8 733.2,139.9 733.8,138.4 734.4,138.7 735.0,137.3 735.6,136.0 736.2,132.4 736.8,135.0 737.4,134.9 738.0,137.8 738.6,138.6 739.2,137.4 739.8,134.4 740.4,140.7 741.0,139.7 741.6,135.8 742.2,136.8 742.8,137.9 743.4,136.7 744.0,136.2 744.6,137.5 745.2,136.2 745.8,136.5 746.4,132.0 747.0,131.9 747.6,139.8 748.2,131.8 748.8,136.5 749.4,135.9 750.0,135.6 750.6,133.2"/>
<polyline class="ln" stroke="#ee0000" stroke-width="2.4" points="532.2,74.4 532.8,75.8 533.4,76.4 534.0,77.1 534.6,79.0 535.2,80.0 535.8,82.4 536.4,84.9 537.0,84.2 537.6,85.0 538.2,86.7 538.8,87.2 539.4,87.7 540.0,87.5 540.6,89.3 541.2,90.9 541.8,89.4 542.4,90.9 543.0,90.1 543.6,91.3 544.2,91.3 544.8,93.5 545.4,93.1 546.0,95.2 546.6,95.7 547.2,96.0 547.8,94.0 548.4,96.7 549.0,97.6 549.6,98.0 550.2,96.4 550.8,97.9 551.4,97.6 552.0,98.1 552.6,100.6 553.2,98.5 553.8,99.7 554.4,101.1 555.0,99.4 555.6,100.4 556.2,101.2 556.8,101.5 557.4,100.0 558.0,102.1 558.6,104.2 559.2,100.1 559.8,103.9 560.4,103.1 561.0,102.3 561.6,106.9 562.2,105.3 562.8,102.5 563.4,104.8 564.0,105.9 564.6,104.8 565.2,106.5 565.8,105.4 566.4,106.7 567.0,108.1 567.6,104.3 568.2,105.8 568.8,104.8 569.4,106.1 570.0,103.8 570.6,105.1 571.2,106.0 571.8,108.3 572.4,109.0 573.0,104.5 573.6,105.7 574.2,108.6 574.8,103.8 575.4,106.9 576.0,107.8 576.6,110.6 577.2,109.7 577.8,108.0 578.4,108.1 579.0,108.5 579.6,112.3 580.2,109.4 580.8,110.3 581.4,112.3 582.0,112.2 582.6,112.8 583.2,111.1 583.8,113.0 584.4,111.9 585.0,114.8 585.6,113.7 586.2,112.8 586.8,114.6 587.4,113.0 588.0,116.1 588.6,114.0 589.2,114.7 589.8,110.8 590.4,113.5 591.0,109.2 591.6,109.2 592.2,113.1 592.8,112.5 593.4,115.2 594.0,119.3 594.6,113.3 595.2,113.5 595.8,114.9 596.4,115.2 597.0,114.5 597.6,115.0 598.2,117.3 598.8,117.6 599.4,115.0 600.0,116.6 600.6,116.6 601.2,114.3 601.8,116.6 602.4,114.8 603.0,118.6 603.6,117.5 604.2,117.8 604.8,116.8 605.4,117.9 606.0,114.5 606.6,116.4 607.2,119.4 607.8,114.9 608.4,120.8 609.0,116.0 609.6,121.0 610.2,118.1 610.8,121.4 611.4,120.4 612.0,117.4 612.6,122.9 613.2,123.4 613.8,120.5 614.4,120.1 615.0,120.3 615.6,118.8 616.2,122.9 616.8,120.0 617.4,121.1 618.0,119.9 618.6,120.4 619.2,119.1 619.8,124.0 620.4,121.3 621.0,123.4 621.6,121.7 622.2,120.6 622.8,121.5 623.4,121.3 624.0,122.5 624.6,122.0 625.2,122.3 625.8,120.5 626.4,121.8 627.0,126.7 627.6,122.4 628.2,121.9 628.8,124.8 629.4,127.0 630.0,121.7 630.6,124.2 631.2,123.5 631.8,121.5 632.4,126.3 633.0,125.0 633.6,125.3 634.2,123.9 634.8,126.3 635.4,124.6 636.0,125.4 636.6,123.7 637.2,123.6 637.8,128.5 638.4,125.1 639.0,126.7 639.6,126.2 640.2,125.5 640.8,125.5 641.4,127.8 642.0,126.1 642.6,126.5 643.2,126.9 643.8,129.2 644.4,128.4 645.0,127.9 645.6,126.2 646.2,124.8 646.8,129.3 647.4,129.4 648.0,127.4 648.6,128.8 649.2,129.4 649.8,129.6 650.4,129.8 651.0,127.3 651.6,131.2 652.2,126.0 652.8,130.1 653.4,129.5 654.0,130.3 654.6,132.3 655.2,131.7 655.8,126.8 656.4,125.9 657.0,130.7 657.6,127.3 658.2,129.2 658.8,130.8 659.4,126.1 660.0,125.2 660.6,129.7 661.2,129.3 661.8,128.8 662.4,129.3 663.0,127.7 663.6,126.8 664.2,129.7 664.8,128.5 665.4,127.6 666.0,132.1 666.6,131.3 667.2,132.0 667.8,129.1 668.4,129.6 669.0,128.7 669.6,128.7 670.2,130.5 670.8,128.7 671.4,131.0 672.0,131.0 672.6,134.2 673.2,127.8 673.8,132.2 674.4,130.4 675.0,130.6 675.6,127.9 676.2,129.9 676.8,132.2 677.4,130.7 678.0,131.1 678.6,130.4 679.2,133.3 679.8,131.1 680.4,127.0 681.0,130.0 681.6,127.6 682.2,125.3 682.8,130.5 683.4,134.2 684.0,131.8 684.6,129.6 685.2,130.1 685.8,134.1 686.4,132.3 687.0,132.2 687.6,132.1 688.2,132.4 688.8,133.9 689.4,133.5 690.0,132.8 690.6,130.4 691.2,133.4 691.8,131.1 692.4,134.5 693.0,130.0 693.6,132.2 694.2,132.4 694.8,129.9 695.4,135.7 696.0,135.2 696.6,131.5 697.2,133.9 697.8,133.1 698.4,127.5 699.0,133.0 699.6,132.5 700.2,132.9 700.8,130.8 701.4,132.4 702.0,132.7 702.6,135.4 703.2,133.9 703.8,133.3 704.4,136.5 705.0,132.7 705.6,133.2 706.2,130.7 706.8,137.3 707.4,136.4 708.0,136.5 708.6,136.2 709.2,135.4 709.8,135.6 710.4,134.8 711.0,135.0 711.6,135.6 712.2,138.4 712.8,136.7 713.4,135.6 714.0,134.7 714.6,134.6 715.2,139.0 715.8,136.9 716.4,136.2 717.0,135.4 717.6,134.0 718.2,136.0 718.8,137.7 719.4,135.3 720.0,135.6 720.6,135.7 721.2,136.3 721.8,133.1 722.4,135.6 723.0,134.5 723.6,137.8 724.2,134.6 724.8,137.2 725.4,139.0 726.0,135.5 726.6,135.0 727.2,136.5 727.8,136.2 728.4,134.3 729.0,137.1 729.6,140.1 730.2,135.8 730.8,135.9 731.4,134.3 732.0,136.9 732.6,134.0 733.2,134.3 733.8,138.8 734.4,134.7 735.0,138.5 735.6,139.3 736.2,136.9 736.8,137.4 737.4,140.1 738.0,135.9 738.6,135.2 739.2,133.7 739.8,136.3 740.4,139.0 741.0,138.0 741.6,134.4 742.2,134.5 742.8,135.2 743.4,136.7 744.0,135.7 744.6,136.4 745.2,136.5 745.8,135.3 746.4,135.7 747.0,136.1 747.6,135.4 748.2,136.5 748.8,139.0 749.4,136.5 750.0,135.4 750.6,132.0"/>
<polyline class="noise" points="532.2,77.3 533.7,82.0 535.2,83.9 536.7,90.0 538.2,92.4 539.7,91.9 541.2,94.4 542.7,96.4 544.2,98.0 545.7,99.3 547.2,99.6 548.7,104.8 550.2,105.5 551.7,109.6 553.2,107.7 554.7,106.7 556.2,106.2 557.7,108.9 559.2,108.0 560.7,111.1 562.2,110.1 563.7,111.4 565.2,110.2 566.7,114.2 568.2,111.8 569.7,111.8 571.2,113.4 572.7,112.1 574.2,114.1 575.7,112.4 577.2,114.3 578.7,112.9 580.2,113.2 581.7,116.1 583.2,116.6 584.7,119.1 586.2,119.6 587.7,121.5 589.2,122.0 590.7,122.0 592.2,121.7 593.7,121.7 595.2,122.4 596.7,123.4 598.2,122.2 599.7,122.4 601.2,122.4 602.7,125.5 604.2,123.0 605.7,123.9 607.2,125.7 608.7,126.4 610.2,125.0 611.7,125.8 613.2,127.0 614.7,126.4 616.2,127.3 617.7,125.8 619.2,127.2 620.7,127.2 622.2,127.9 623.7,127.5 625.2,125.1 626.7,128.5 628.2,126.3 629.7,126.2 631.2,128.1 632.7,131.1 634.2,132.4 635.7,131.5 637.2,129.4 638.7,129.0 640.2,126.2 641.7,126.7 643.2,126.4 644.7,127.6 646.2,127.5 647.7,125.2 649.2,126.6 650.7,127.8 652.2,128.4 653.7,126.7 655.2,128.8 656.7,128.4 658.2,127.3 659.7,129.4 661.2,126.3 662.7,127.1 664.2,127.9 665.7,127.7 667.2,127.4 668.7,129.3 670.2,129.8 671.7,130.0 673.2,130.8 674.7,129.9 676.2,128.4 677.7,131.4 679.2,128.3 680.7,132.1 682.2,130.4 683.7,131.4 685.2,131.7 686.7,133.5 688.2,132.2 689.7,134.4 691.2,132.9 692.7,132.4 694.2,131.5 695.7,132.4 697.2,132.2 698.7,134.1 700.2,133.2 701.7,130.8 703.2,133.9 704.7,130.0 706.2,134.0 707.7,130.5 709.2,132.0 710.7,132.4 712.2,131.1 713.7,129.5 715.2,131.4 716.7,127.9 718.2,128.6 719.7,131.8 721.2,129.1 722.7,129.2 724.2,130.8 725.7,131.4 727.2,132.2 728.7,132.4 730.2,132.6 731.7,133.6 733.2,133.4 734.7,133.6 736.2,134.9 737.7,134.0 739.2,134.1 740.7,134.3 742.2,136.4 743.7,137.6 745.2,135.8 746.7,133.3 748.2,134.4 749.7,134.9"/>

<!-- frames -->
<rect class="frame" x="53.55" y="32.6" width="218.55" height="170.5"/>
<rect class="frame" x="293" y="32.6" width="219" height="170.5"/>
<rect class="frame" x="532" y="32.6" width="219.5" height="170.5"/>

<!-- titles -->
<text class="ttl" x="152.1" y="22.4">(a)</text>
<text class="ttl" x="382.2" y="22.5">(b)</text>
<text class="ttl" x="626.9" y="22.5">(c)</text>

<!-- y ticks -->
<g class="tick" text-anchor="end">
<text x="40.4" y="37.7">100</text>
<text x="40.4" y="71.7">80</text>
<text x="40.4" y="105.7">60</text>
<text x="40.4" y="139.7">40</text>
<text x="40.4" y="173.7">20</text>
<text x="40.4" y="207.7">0</text>
</g>
<text class="tick" style="font-size:15px" transform="translate(20.6 153.4) rotate(-90)">Power (dB)</text>

<!-- x ticks -->
<g class="tick" text-anchor="middle">
<text x="53.4" y="224">100</text>
<text x="157.7" y="224">1000</text>
<text x="258.8" y="224">2000</text>
<text x="292.7" y="224">100</text>
<text x="397.2" y="224">1000</text>
<text x="498.2" y="224">2000</text>
<text x="532.7" y="224">100</text>
<text x="635.7" y="224">1000</text>
<text x="735.7" y="224">2000</text>
</g>
<text class="tick" style="font-size:15px" x="160.8" y="236.8" text-anchor="middle">Frequency (Hz)</text>

<!-- legend (a) -->
<rect class="lbox" x="98.4" y="41.1" width="109" height="34.6"/>
<path d="M115 46.1H142.5" stroke="#ee7f2e" stroke-width="2.1" fill="none"/>
<path d="M115 58H142.5" stroke="#f3a16a" stroke-width="2.6" fill="none"/>
<path d="M115 58H142.5" stroke="#fff" stroke-width="0.6" fill="none"/>
<path class="noise" d="M115 70H142.5"/>
<g class="lg">
<text x="145.7" y="49.7">BCS Insp.</text>
<text x="145.7" y="61.5">BCS exp.</text>
<text x="145.7" y="73.3">BCS noise</text>
</g>

<!-- legend (b) -->
<rect class="lbox" x="337" y="41.1" width="108" height="34.4"/>
<path d="M352.5 46.1H380.5" stroke="#2a94d0" stroke-width="2.1" fill="none"/>
<path d="M352.5 58H380.5" stroke="#64b4e4" stroke-width="2.6" fill="none"/>
<path d="M352.5 58H380.5" stroke="#fff" stroke-width="0.6" fill="none"/>
<path class="noise" d="M352.5 70H380.5"/>
<g class="lg">
<text x="383.4" y="49.7">ACM Insp.</text>
<text x="383.4" y="61.5">ACM exp.</text>
<text x="383.4" y="73.3">ACM noise</text>
</g>

<!-- legend (c) -->
<rect class="lbox" x="584.8" y="39.5" width="117.6" height="38"/>
<path d="M591.5 45.7H618" stroke="#d00000" stroke-width="2.1" fill="none"/>
<path d="M591.5 58.4H618" stroke="#ff4545" stroke-width="2.5" fill="none"/>
<path class="noise" d="M591.5 71H618"/>
<g class="lg">
<text x="622" y="49.4">Type 8001 Insp.</text>
<text x="622" y="62">Type 8001 exp.</text>
<text x="622" y="74.6">Type 8001 noise</text>
</g>
</svg>
</body>
</html>
